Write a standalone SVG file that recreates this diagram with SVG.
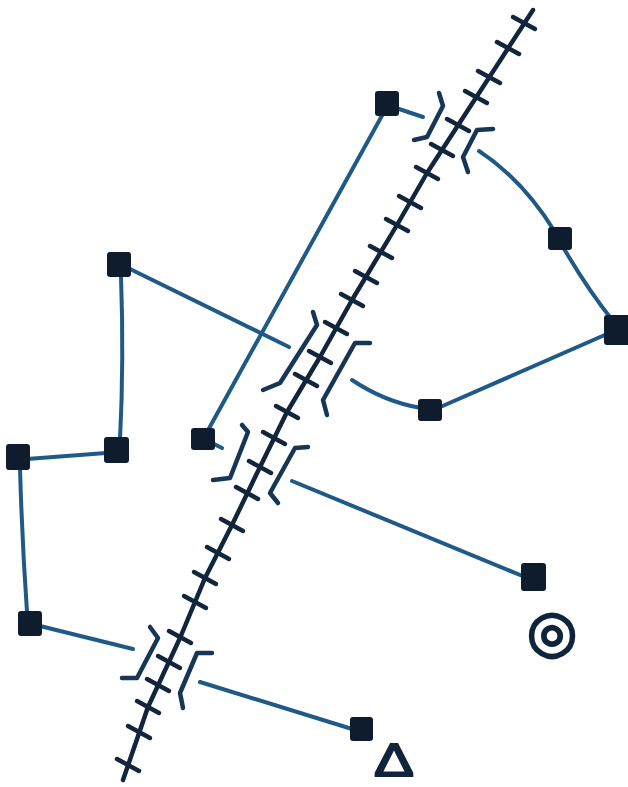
<svg xmlns="http://www.w3.org/2000/svg" width="628" height="787" viewBox="0 0 628 787">
<style>
.bg{fill:#ffffff}
.track{fill:none;stroke:#11253d;stroke-width:4.5;stroke-linecap:round;stroke-linejoin:round}
.tick{stroke:#11253d;stroke-width:4.5;stroke-linecap:round}
.conn{fill:none;stroke:#1f5a87;stroke-width:4;stroke-linecap:round;stroke-linejoin:round}
.br{fill:none;stroke:#163656;stroke-width:4.5;stroke-linecap:round;stroke-linejoin:round}
.node{fill:#0f1c2d;stroke:#0f1c2d;stroke-width:2;stroke-linejoin:round}
.sym{fill:#10243c;stroke:#10243c;text-anchor:middle}
</style>
<rect class="bg" x="0" y="0" width="628" height="787"/>

<g id="track">
<polyline class="track" points="533,10 427,173 397,225 352,300 320,357 287,412 260,467 232,525 205,578 180,638 148,707 123,780"/>
<g id="ticks">
<line class="tick" x1="513" y1="17" x2="535" y2="29"/>
<line class="tick" x1="497" y1="42" x2="519" y2="54"/>
<line class="tick" x1="478" y1="71" x2="500" y2="83"/>
<line class="tick" x1="465" y1="91" x2="487" y2="103"/>
<line class="tick" x1="447" y1="119" x2="469" y2="131"/>
<line class="tick" x1="431" y1="144" x2="453" y2="156"/>
<line class="tick" x1="416" y1="167" x2="438" y2="179"/>
<line class="tick" x1="399" y1="196" x2="421" y2="208"/>
<line class="tick" x1="386" y1="219" x2="408" y2="231"/>
<line class="tick" x1="370" y1="246" x2="392" y2="258"/>
<line class="tick" x1="355" y1="271" x2="377" y2="283"/>
<line class="tick" x1="341" y1="294" x2="363" y2="306"/>
<line class="tick" x1="325" y1="322" x2="347" y2="334"/>
<line class="tick" x1="309" y1="351" x2="331" y2="363"/>
<line class="tick" x1="295" y1="374" x2="317" y2="386"/>
<line class="tick" x1="276" y1="406" x2="298" y2="418"/>
<line class="tick" x1="263" y1="432" x2="285" y2="444"/>
<line class="tick" x1="249" y1="461" x2="271" y2="473"/>
<line class="tick" x1="236" y1="487" x2="258" y2="499"/>
<line class="tick" x1="221" y1="519" x2="243" y2="531"/>
<line class="tick" x1="207" y1="547" x2="229" y2="559"/>
<line class="tick" x1="194" y1="572" x2="216" y2="584"/>
<line class="tick" x1="184" y1="596" x2="206" y2="608"/>
<line class="tick" x1="169" y1="631" x2="191" y2="643"/>
<line class="tick" x1="158" y1="656" x2="180" y2="668"/>
<line class="tick" x1="147" y1="679" x2="169" y2="691"/>
<line class="tick" x1="137" y1="701" x2="159" y2="713"/>
<line class="tick" x1="128" y1="726" x2="150" y2="738"/>
<line class="tick" x1="117" y1="759" x2="139" y2="771"/>
</g>
</g>

<g id="bridges">
<path class="br" d="M439,93 L443,106 L427,137 L414,140"/>
<path class="br" d="M493,129 L477,130 L463,157 L468,172"/>
<path class="br" d="M313,312 L317,325 L280,383 L263,390"/>
<path class="br" d="M370,343 L355,343 L323,400 L327,415"/>
<path class="br" d="M242,425 L248,432 L230,478 L213,480"/>
<path class="br" d="M308,447 L295,448 L270,493 L278,503"/>
<path class="br" d="M150,627 L158,638 L137,678 L122,678"/>
<path class="br" d="M212,653 L197,653 L180,693 L183,708"/>
</g>

<g id="connectors">
<line class="conn" x1="384" y1="112" x2="207" y2="432"/>
<line class="conn" x1="396" y1="108" x2="423" y2="117"/>
<path class="conn" d="M479,151 Q523,180 555,232"/>
<path class="conn" d="M563,247 Q588,290 613,321"/>
<line class="conn" x1="607" y1="334" x2="438" y2="408"/>
<path class="conn" d="M421,408 Q385,402 352,380"/>
<line class="conn" x1="128" y1="268" x2="289" y2="347"/>
<path class="conn" d="M121,276 Q124,360 120,440"/>
<line class="conn" x1="106" y1="453" x2="27" y2="459"/>
<path class="conn" d="M20,468 Q22,540 27,612"/>
<line class="conn" x1="40" y1="626" x2="133" y2="649"/>
<line class="conn" x1="212" y1="443" x2="222" y2="448"/>
<line class="conn" x1="292" y1="481" x2="525" y2="577"/>
<line class="conn" x1="200" y1="682" x2="352" y2="729"/>
</g>

<g id="n-top"><rect class="node" x="376" y="92" width="22" height="23" rx="2"/></g>
<g id="n-left-top"><rect class="node" x="108" y="253" width="22" height="23" rx="2"/></g>
<g id="n-left-mid"><rect class="node" x="105" y="438" width="23" height="24" rx="2"/></g>
<g id="n-far-left"><rect class="node" x="7" y="445" width="22" height="24" rx="2"/></g>
<g id="n-left-bot"><rect class="node" x="19" y="612" width="22" height="23" rx="2"/></g>
<g id="n-center"><rect class="node" x="192" y="429" width="22" height="20" rx="2"/></g>
<g id="n-right-top"><rect class="node" x="549" y="228" width="22" height="21" rx="2"/></g>
<g id="n-right"><rect class="node" x="605" y="316" width="24" height="28" rx="2"/></g>
<g id="n-right-mid"><rect class="node" x="419" y="400" width="22" height="20" rx="2"/></g>
<g id="n-right-bot"><rect class="node" x="522" y="564" width="23" height="26" rx="2"/></g>
<g id="n-bottom"><rect class="node" x="351" y="718" width="21" height="22" rx="2"/></g>

<g id="labels">
<text class="sym" x="552" y="651" font-size="58" stroke-width="2.2" font-family="'DejaVu Sans', sans-serif">◎</text>
<text class="sym" transform="translate(394,776) scale(1.3,1)" x="0" y="0" font-size="46" stroke-width="1.8" font-family="'Liberation Sans', sans-serif">Δ</text>
</g>
</svg>
